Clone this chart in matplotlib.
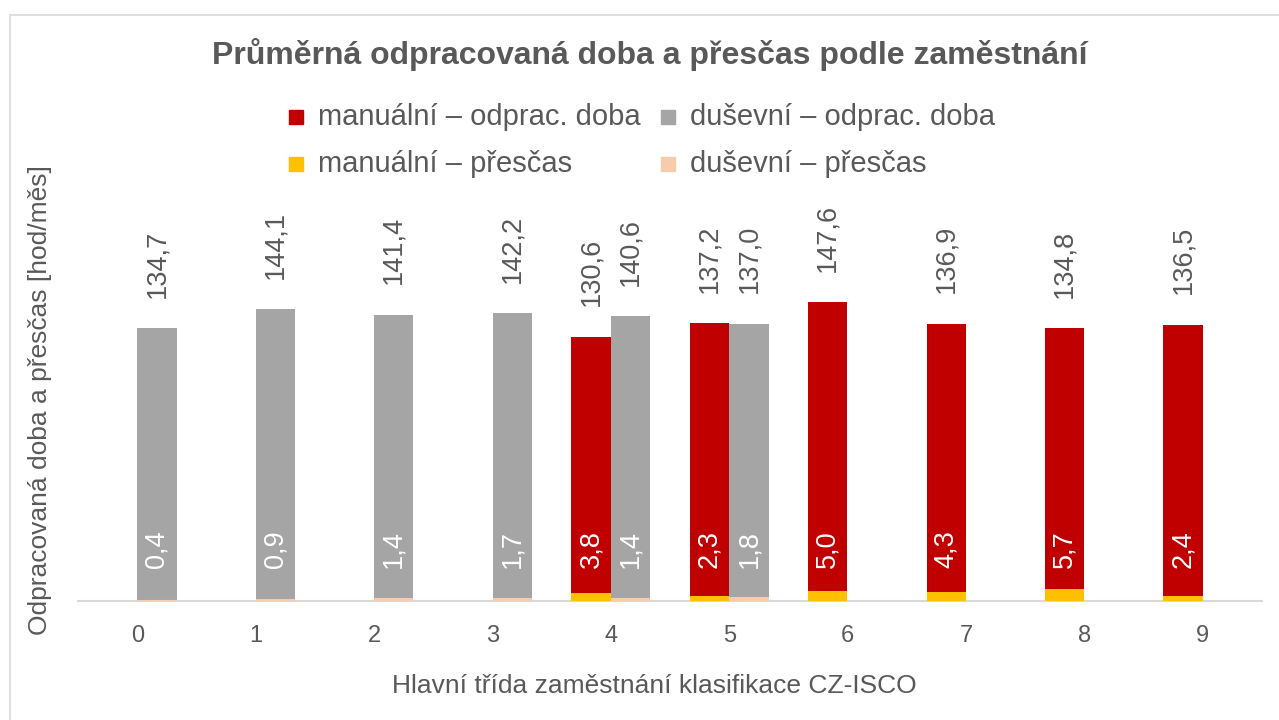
import matplotlib
matplotlib.use("Agg")
import matplotlib.pyplot as plt
from matplotlib.patches import Rectangle
import numpy as np

plt.rcParams['font.family'] = ['Liberation Sans', 'DejaVu Sans']

categories = ['0', '1', '2', '3', '4', '5', '6', '7', '8', '9']
manual_hours = [None, None, None, None, 130.6, 137.2, 147.6, 136.9, 134.8, 136.5]
mental_hours = [134.7, 144.1, 141.4, 142.2, 140.6, 137.0, None, None, None, None]
manual_overtime = [None, None, None, None, 3.8, 2.3, 5.0, 4.3, 5.7, 2.4]
mental_overtime = [0.4, 0.9, 1.4, 1.7, 1.4, 1.8, None, None, None, None]

title = 'Průměrná odpracovaná doba a přesčas podle zaměstnání'
legend_labels = ['manuální – odprac. doba', 'duševní – odprac. doba',
                 'manuální – přesčas', 'duševní – přesčas']
xlabel = 'Hlavní třída zaměstnání klasifikace CZ-ISCO'
ylabel = 'Odpracovaná doba a přesčas [hod/měs]'

C_RED = '#C00000'
C_GRAY = '#A5A5A5'
C_YEL = '#FFC000'
C_PINK = '#F8CBAD'
TXT = '#595959'

W, H = 1279, 720
fig = plt.figure(figsize=(W / 100, H / 100), dpi=100)

# outer chart border (light gray, open at right/bottom)
fig.add_artist(Rectangle((10 / W, -0.1), 1.2, (H - 15) / H + 0.1,
                         transform=fig.transFigure, fill=False,
                         edgecolor='#D9D9D9', linewidth=1.2))

left, right, base = 78, 1262, 601
top = 200
ax = fig.add_axes([left / W, (H - base) / H, (right - left) / W, (base - top) / H])
px_per_unit = 2.024
ax.set_ylim(0, (base - top) / px_per_unit)

x = np.arange(len(categories))
ax.set_xlim(-0.5, len(categories) - 0.5)
bw = 0.33
off = 0.167


def vals(a):
    return [np.nan if v is None else v for v in a]


ax.bar(x - off, vals(manual_hours), bw, color=C_RED, zorder=2)
ax.bar(x + off, vals(mental_hours), bw, color=C_GRAY, zorder=2)
ax.bar(x - off, vals(manual_overtime), bw, color=C_YEL, zorder=3)
ax.bar(x + off, vals(mental_overtime), bw, color=C_PINK, zorder=3)


def fmt(v):
    return f'{v:.1f}'.replace('.', ',')


for series, dx in ((manual_hours, -off), (mental_hours, off)):
    for i, v in enumerate(series):
        if v is None:
            continue
        ax.annotate(fmt(v), (x[i] + dx, v), xytext=(0, 22), textcoords='offset points',
                    rotation=90, ha='center', va='bottom', fontsize=19.5, color=TXT)

for series, dx in ((manual_overtime, -off), (mental_overtime, off)):
    for i, v in enumerate(series):
        if v is None:
            continue
        ax.annotate(fmt(v), (x[i] + dx, 0), xytext=(0, 23.5), textcoords='offset points',
                    rotation=90, ha='center', va='bottom', fontsize=19.5, color='white',
                    zorder=5)

for s in ('top', 'right', 'left'):
    ax.spines[s].set_visible(False)
ax.spines['bottom'].set_color('#D9D9D9')
ax.spines['bottom'].set_linewidth(1.5)
ax.set_yticks([])
ax.set_xticks(x)
ax.set_xticklabels(categories, fontsize=17, color=TXT)
ax.tick_params(axis='x', length=0, pad=17)

fig.text(40 / W, 1 - 400 / H, ylabel, rotation=90, ha='center', va='center',
         fontsize=19, color=TXT)
fig.text(654 / W, 1 - 686 / H, xlabel, ha='center', va='center', fontsize=19, color=TXT)
fig.text(650 / W, 1 - 55 / H, title, ha='center', va='center', fontsize=23,
         fontweight='bold', color=TXT)

# legend drawn as coloured squares and real text at their pixel positions
leg_colors = [C_RED, C_GRAY, C_YEL, C_PINK]
leg_sq_x = [289, 661, 289, 661]
leg_txt_x = [318, 690, 318, 690]
leg_y = [117, 117, 164, 164]
sq = 14
for c, sx, tx, ly, lab in zip(leg_colors, leg_sq_x, leg_txt_x, leg_y, legend_labels):
    fig.add_artist(Rectangle((sx / W, 1 - (ly + sq / 2) / H), sq / W, sq / H,
                             transform=fig.transFigure, color=c))
    fig.text(tx / W, 1 - ly / H, lab, ha='left', va='center', fontsize=21, color=TXT)

fig.savefig('out.png', dpi=100)
